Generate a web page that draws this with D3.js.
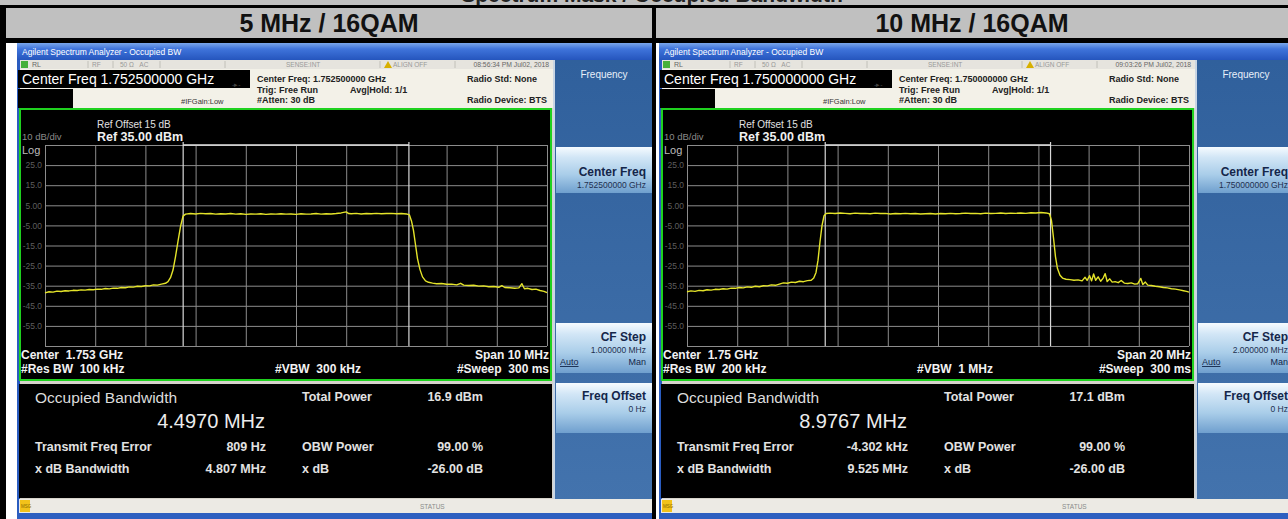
<!DOCTYPE html>
<html>
<head>
<meta charset="utf-8">
<script src="https://cdn.jsdelivr.net/npm/d3@7"></script>
<style>
  html, body { margin: 0; padding: 0; background: #c0c0c0; overflow: hidden; }
  svg { display: block; font-family: "Liberation Sans", Arial, sans-serif; }
</style>
</head>
<body>
<div id="chart"></div>
<script>
// ---- data ----
const pageTitle = "Spectrum Mask / Occupied Bandwidth";
const panelTitles = ["5 MHz / 16QAM", "10 MHz / 16QAM"];
const centerFreqs = ["1.752500000 GHz", "1.750000000 GHz"];
const centerShort = ["1.753 GHz", "1.75 GHz"];
const spansMHz = [10, 20];
const spanText = ["10 MHz", "20 MHz"];
const resBW = ["100 kHz", "200 kHz"];
const vbw = ["300 kHz", "1 MHz"];
const sweep = ["300 ms", "300 ms"];
const timestamps = ["08:56:34 PM Jul02, 2018", "09:03:26 PM Jul02, 2018"];
const cfSteps = ["1.000000 MHz", "2.000000 MHz"];
const obwMHz = [4.4970, 8.9767];
const obwText = ["4.4970 MHz", "8.9767 MHz"];
const freqErrMHz = [0.000809, -0.004302];
const freqErrText = ["809 Hz", "-4.302 kHz"];
const totalPower = ["16.9 dBm", "17.1 dBm"];
const xdbBandwidth = ["4.807 MHz", "9.525 MHz"];
const obwPower = ["99.00 %", "99.00 %"];
const xdbValue = ["-26.00 dB", "-26.00 dB"];

const yTicks = [35, 25, 15, 5, -5, -15, -25, -35, -45, -55, -65];
const yTickLabels = ["Log", "25.0", "15.0", "5.00", "-5.00", "-15.0", "-25.0", "-35.0", "-45.0", "-55.0", ""];

// [offset from center (MHz), level (dBm)]
const trace5 = [
  [-5.00,-38.6],[-4.92,-38.0],[-4.84,-38.2],[-4.76,-37.7],[-4.68,-37.9],[-4.60,-37.5],[-4.52,-37.6],
  [-4.44,-37.3],[-4.36,-37.4],[-4.28,-37.1],[-4.20,-37.2],[-4.12,-36.9],[-4.04,-37.0],[-3.96,-36.7],
  [-3.88,-36.8],[-3.80,-36.4],[-3.72,-36.6],[-3.64,-36.2],[-3.56,-36.3],[-3.48,-35.9],[-3.40,-36.0],
  [-3.32,-35.6],[-3.24,-35.7],[-3.16,-35.3],[-3.08,-35.4],[-3.00,-35.0],[-2.92,-35.1],[-2.84,-34.6],
  [-2.76,-34.7],[-2.68,-34.2],[-2.60,-33.8],[-2.55,-33.0],[-2.50,-31.0],[-2.45,-27.2],[-2.40,-20.5],
  [-2.35,-12.8],[-2.30,-5.5],[-2.25,-0.4],[-2.20,0.6],[-2.10,0.9],[-2.00,0.7],[-1.90,1.0],[-1.80,0.8],
  [-1.70,0.9],[-1.60,0.6],[-1.50,0.8],[-1.40,0.7],[-1.30,0.9],[-1.20,0.6],[-1.10,0.8],[-1.00,0.5],
  [-0.90,0.7],[-0.80,0.6],[-0.70,0.8],[-0.60,0.5],[-0.50,0.7],[-0.40,0.6],[-0.30,0.8],[-0.20,0.6],
  [-0.10,0.7],[0.00,0.5],[0.10,0.8],[0.20,0.6],[0.30,0.7],[0.40,0.9],[0.50,0.6],[0.60,0.8],[0.70,0.7],
  [0.80,0.9],[0.90,1.2],[1.00,1.7],[1.05,0.9],[1.10,0.8],[1.20,1.0],[1.30,0.7],[1.40,0.9],[1.50,0.8],
  [1.60,1.0],[1.70,0.8],[1.80,0.9],[1.90,1.0],[2.00,0.8],[2.10,0.9],[2.20,0.7],[2.26,0.2],[2.30,-2.8],
  [2.34,-7.5],[2.38,-14.5],[2.42,-21.5],[2.47,-27.0],[2.52,-30.6],[2.58,-32.6],[2.64,-33.3],[2.72,-33.7],
  [2.80,-34.0],[2.90,-33.9],[3.00,-34.3],[3.10,-34.2],[3.20,-34.6],[3.28,-33.8],[3.34,-34.7],[3.44,-34.9],
  [3.54,-34.8],[3.64,-35.2],[3.74,-35.1],[3.84,-35.5],[3.94,-35.4],[4.04,-35.8],[4.10,-35.0],[4.16,-35.9],
  [4.26,-36.0],[4.36,-36.3],[4.44,-36.1],[4.50,-34.0],[4.55,-36.5],[4.62,-36.3],[4.70,-36.9],[4.78,-36.7],
  [4.86,-37.4],[4.94,-37.8],[5.00,-38.5]
];
const trace10 = [
  [-10.0,-38.0],[-9.84,-37.6],[-9.68,-37.8],[-9.52,-37.3],[-9.36,-37.5],[-9.20,-37.0],[-9.04,-37.2],
  [-8.88,-36.8],[-8.72,-36.9],[-8.56,-36.5],[-8.40,-36.7],[-8.24,-36.2],[-8.08,-36.3],[-7.92,-35.9],
  [-7.76,-36.1],[-7.60,-35.6],[-7.44,-35.8],[-7.28,-35.3],[-7.12,-35.5],[-6.96,-35.0],[-6.80,-35.1],
  [-6.64,-34.6],[-6.48,-34.8],[-6.32,-34.2],[-6.16,-33.6],[-6.00,-33.8],[-5.84,-33.2],[-5.68,-33.4],
  [-5.52,-32.8],[-5.36,-33.0],[-5.20,-32.5],[-5.05,-32.3],[-4.95,-31.2],[-4.86,-28.4],[-4.78,-22.3],
  [-4.70,-13.0],[-4.62,-5.0],[-4.54,-0.2],[-4.46,0.9],[-4.30,1.1],[-4.10,0.9],[-3.90,1.2],[-3.70,1.0],
  [-3.50,0.8],[-3.30,1.1],[-3.10,0.9],[-2.90,1.0],[-2.70,0.8],[-2.50,1.1],[-2.30,0.9],[-2.10,1.0],
  [-1.90,0.7],[-1.70,0.9],[-1.50,0.8],[-1.30,1.0],[-1.10,0.8],[-0.90,0.9],[-0.70,0.7],[-0.50,0.8],
  [-0.30,0.9],[-0.10,0.7],[0.10,0.9],[0.30,0.8],[0.50,1.0],[0.70,0.8],[0.90,0.9],[1.10,1.1],[1.30,0.9],
  [1.50,1.0],[1.70,0.8],[1.90,1.1],[2.10,0.9],[2.30,1.0],[2.50,1.2],[2.70,0.9],[2.90,1.1],[3.10,1.0],
  [3.30,1.2],[3.50,1.0],[3.70,1.3],[3.90,1.2],[4.10,1.4],[4.30,1.2],[4.44,0.8],[4.52,-2.5],[4.60,-11.0],
  [4.68,-20.5],[4.76,-26.5],[4.86,-29.8],[4.96,-31.2],[5.10,-31.8],[5.26,-32.0],[5.42,-32.3],[5.58,-32.1],
  [5.74,-32.6],[5.86,-30.8],[5.94,-32.4],[6.04,-30.0],[6.12,-32.6],[6.20,-29.2],[6.28,-32.3],[6.38,-30.6],
  [6.48,-32.8],[6.58,-31.2],[6.66,-29.0],[6.74,-32.9],[6.84,-31.6],[6.94,-33.2],[7.06,-33.0],[7.18,-33.5],
  [7.30,-32.4],[7.42,-33.7],[7.56,-33.9],[7.70,-33.6],[7.84,-34.2],[7.96,-34.0],[8.08,-31.4],[8.16,-34.4],
  [8.26,-33.2],[8.36,-34.7],[8.50,-34.9],[8.66,-35.3],[8.82,-35.5],[8.98,-35.9],[9.14,-36.1],[9.30,-36.5],
  [9.46,-36.7],[9.62,-37.1],[9.78,-37.5],[9.90,-37.8],[10.0,-38.2]
];
const traces = [trace5, trace10];

// ---- layout ----
const W = 1288, H = 519;
const panelDx = [0, 642];
const grid = { x0: 45, x1: 547, y0: 145, y1: 346 };

const svg = d3.select("#chart").append("svg").attr("width", W).attr("height", H);
const defs = svg.append("defs");

function vgrad(id, stops) {
  const g = defs.append("linearGradient").attr("id", id)
    .attr("x1", 0).attr("y1", 0).attr("x2", 0).attr("y2", 1);
  stops.forEach(s => g.append("stop").attr("offset", s[0]).attr("stop-color", s[1]));
}
vgrad("titleBar", [[0, "#7aa6ea"], [0.35, "#3f74db"], [1, "#2555bd"]]);
vgrad("softBtn", [[0, "#f6fbff"], [0.22, "#d2e6f6"], [0.6, "#a9cde9"], [1, "#6f9fce"]]);
vgrad("softBg", [[0, "#30609c"], [1, "#4373ad"]]);

svg.append("rect").attr("width", W).attr("height", H).attr("fill", "#c0c0c0");

// page title, almost entirely cut off at the top
svg.append("text").attr("x", 652).attr("y", 2).attr("text-anchor", "middle")
  .attr("font-size", 21).attr("font-weight", "bold").attr("fill", "#222").text(pageTitle);

// table lines
svg.append("rect").attr("x", 0).attr("y", 5).attr("width", W).attr("height", 3).attr("fill", "#000");
svg.append("rect").attr("x", 0).attr("y", 38).attr("width", W).attr("height", 5).attr("fill", "#000");
svg.append("rect").attr("x", 0).attr("y", 5).attr("width", 6).attr("height", H).attr("fill", "#000");
svg.append("rect").attr("x", 652).attr("y", 5).attr("width", 4).attr("height", H).attr("fill", "#000");
svg.append("rect").attr("x", 6).attr("y", 43).attr("width", 11).attr("height", H).attr("fill", "#fff");
svg.append("rect").attr("x", 656).attr("y", 43).attr("width", 4).attr("height", H).attr("fill", "#fff");

svg.selectAll("text.head").data(panelTitles).enter().append("text")
  .attr("class", "head")
  .attr("x", (d, i) => i === 0 ? 329 : 972).attr("y", 32)
  .attr("text-anchor", "middle").attr("font-size", 25).attr("font-weight", "bold")
  .attr("fill", "#111").text(d => d);

function txt(g, x, y, s, size, opts = {}) {
  return g.append("text").attr("x", x).attr("y", y)
    .attr("font-size", size)
    .attr("font-weight", opts.bold ? "bold" : null)
    .attr("fill", opts.fill || "#222")
    .attr("text-anchor", opts.anchor || "start")
    .attr("xml:space", "preserve")
    .style("white-space", "pre")
    .style("text-decoration", opts.underline ? "underline" : null)
    .text(s);
}

panelTitles.forEach((title, i) => {
  defs.append("clipPath").attr("id", "clip" + i)
    .append("rect").attr("x", 17).attr("y", 43).attr("width", 635).attr("height", 476);

  const g = svg.append("g")
    .attr("transform", `translate(${panelDx[i]},0)`)
    .attr("clip-path", `url(#clip${i})`);

  // window chrome
  g.append("rect").attr("x", 17).attr("y", 43).attr("width", 640).attr("height", 476).attr("fill", "#d6d3cb");
  g.append("rect").attr("x", 17).attr("y", 43).attr("width", 3).attr("height", 476).attr("fill", "#2a5cc0");
  g.append("rect").attr("x", 17).attr("y", 43).attr("width", 640).attr("height", 17).attr("fill", "url(#titleBar)");
  txt(g, 22, 55, "Agilent Spectrum Analyzer - Occupied BW", 8.5, { fill: "#fff" });

  // status row
  g.append("rect").attr("x", 20).attr("y", 60).attr("width", 535).attr("height", 9).attr("fill", "#e6e4de");
  [88, 113, 160, 225, 380, 455].forEach(sx =>
    g.append("line").attr("x1", sx).attr("x2", sx).attr("y1", 61).attr("y2", 68)
      .attr("stroke", "#b8b6b0").attr("stroke-width", 0.8));
  g.append("rect").attr("x", 21).attr("y", 61).attr("width", 7).attr("height", 7).attr("fill", "#46b03a");
  txt(g, 32, 67, "RL", 7, { fill: "#666" });
  txt(g, 92, 67, "RF", 6.5, { fill: "#999" });
  txt(g, 120, 67, "50 Ω   AC", 6.5, { fill: "#999" });
  txt(g, 286, 67, "SENSE:INT", 6.5, { fill: "#999" });
  g.append("path").attr("d", "M384,68 L388,61 L392,68 Z").attr("fill", "#d8b000");
  txt(g, 393, 67, "ALIGN OFF", 6.5, { fill: "#999" });
  txt(g, 549, 67, timestamps[i], 6.8, { fill: "#666", anchor: "end" });

  // settings area
  g.append("rect").attr("x", 20).attr("y", 69).attr("width", 535).attr("height", 39).attr("fill", "#f3f1e8");
  g.append("rect").attr("x", 18).attr("y", 70).attr("width", 232).attr("height", 18).attr("fill", "#000");
  txt(g, 22, 84, "Center Freq " + centerFreqs[i], 14, { fill: "#fff" });
  g.append("rect").attr("x", 18).attr("y", 89).attr("width", 55).attr("height", 19).attr("fill", "#000");
  txt(g, 232, 87, "-▸-", 7, { fill: "#444" });
  txt(g, 181, 104, "#IFGain:Low", 7.5, { fill: "#333" });
  txt(g, 257, 82, "Center Freq: " + centerFreqs[i], 9, { bold: true });
  txt(g, 257, 93, "Trig: Free Run", 9, { bold: true });
  txt(g, 350, 93, "Avg|Hold: 1/1", 9, { bold: true });
  txt(g, 257, 103, "#Atten: 30 dB", 9, { bold: true });
  txt(g, 467, 82, "Radio Std: None", 9, { bold: true });
  txt(g, 467, 103, "Radio Device: BTS", 9, { bold: true });

  // softkey column
  g.append("rect").attr("x", 553).attr("y", 60).attr("width", 2).attr("height", 440).attr("fill", "#c9d6e4");
  g.append("rect").attr("x", 555).attr("y", 60).attr("width", 100).attr("height", 440).attr("fill", "url(#softBg)");
  txt(g, 604, 78, "Frequency", 10, { fill: "#e8f0fa", anchor: "middle" });
  const keys = [
    { y0: 147, y1: 193, label: "Center Freq", sub: centerFreqs[i], ly: 176, sy: 188 },
    { y0: 323, y1: 373, label: "CF Step", sub: cfSteps[i], ly: 341, sy: 353, auto: 365 },
    { y0: 383, y1: 433, label: "Freq Offset", sub: "0 Hz", ly: 400, sy: 412 }
  ];
  keys.forEach(k => {
    g.append("rect").attr("x", 556).attr("y", k.y0).attr("width", 98).attr("height", k.y1 - k.y0)
      .attr("fill", "url(#softBtn)");
    txt(g, 646, k.ly, k.label, 12, { bold: true, fill: "#14264a", anchor: "end" });
    txt(g, 646, k.sy, k.sub, 8.5, { fill: "#1e3050", anchor: "end" });
    if (k.auto) {
      txt(g, 560, k.auto, "Auto", 9, { fill: "#14264a", underline: true });
      txt(g, 646, k.auto, "Man", 9, { fill: "#14264a", anchor: "end" });
    }
  });

  // plot frame
  g.append("rect").attr("x", 20).attr("y", 109).attr("width", 531).attr("height", 271)
    .attr("fill", "#000").attr("stroke", "#1fd11f").attr("stroke-width", 2);

  const x = d3.scaleLinear().domain([-spansMHz[i] / 2, spansMHz[i] / 2]).range([grid.x0, grid.x1]);
  const y = d3.scaleLinear().domain([-65, 35]).range([grid.y1, grid.y0]);

  const yAxis = g.append("g").attr("transform", `translate(${grid.x0},0)`)
    .call(d3.axisLeft(y).tickValues(yTicks).tickSize(-(grid.x1 - grid.x0)).tickPadding(3)
      .tickFormat((d, k) => yTickLabels[k]));
  yAxis.select(".domain").remove();
  yAxis.selectAll("line").attr("stroke", "#8c8c8c").attr("stroke-width", 1);
  yAxis.selectAll("text").attr("fill", "#5e5e5e").attr("font-size", 8.5)
    .attr("font-family", "\"Liberation Sans\", Arial, sans-serif");
  yAxis.selectAll("text").filter((d, k) => k === 0)
    .attr("x", 22 - grid.x0).attr("text-anchor", "start").attr("dy", "0.75em")
    .attr("fill", "#bdbdbd").attr("font-size", 11);

  const xAxis = g.append("g").attr("transform", `translate(0,${grid.y1})`)
    .call(d3.axisBottom(x).ticks(10).tickSize(-(grid.y1 - grid.y0)).tickFormat(""));
  xAxis.select(".domain").remove();
  xAxis.selectAll("line").attr("stroke", "#8c8c8c").attr("stroke-width", 1);

  // OBW markers
  const mL = x(freqErrMHz[i] - obwMHz[i] / 2), mR = x(freqErrMHz[i] + obwMHz[i] / 2);
  [mL, mR].forEach(mx => g.append("line").attr("x1", mx).attr("x2", mx)
    .attr("y1", grid.y0 - 3).attr("y2", grid.y1).attr("stroke", "#d8d8d8").attr("stroke-width", 1.2));
  g.append("line").attr("x1", mL).attr("x2", mR).attr("y1", grid.y0).attr("y2", grid.y0)
    .attr("stroke", "#e4e4e4").attr("stroke-width", 1.5);

  // trace
  const line = d3.line().x(d => x(d[0])).y(d => y(d[1]));
  g.append("path").datum(traces[i]).attr("d", line)
    .attr("fill", "none").attr("stroke", "#e4e42a").attr("stroke-width", 1.4)
    .attr("stroke-linejoin", "round");

  // annotations inside frame
  txt(g, 22, 140, "10 dB/div", 9.5, { fill: "#8a8a8a" });
  txt(g, 97, 128, "Ref Offset 15 dB", 10, { fill: "#e0e0e0" });
  txt(g, 97, 141, "Ref 35.00 dBm", 12.5, { fill: "#f0f0f0", bold: true });
  txt(g, 21, 359, "Center  " + centerShort[i], 12, { fill: "#f2f2f2", bold: true });
  txt(g, 21, 373, "#Res BW  " + resBW[i], 12, { fill: "#f2f2f2", bold: true });
  txt(g, 275, 373, "#VBW  " + vbw[i], 12, { fill: "#f2f2f2", bold: true });
  txt(g, 549, 359, "Span " + spanText[i], 12, { fill: "#f2f2f2", bold: true, anchor: "end" });
  txt(g, 549, 373, "#Sweep  " + sweep[i], 12, { fill: "#f2f2f2", bold: true, anchor: "end" });

  // result panel
  g.append("rect").attr("x", 19).attr("y", 384).attr("width", 533).attr("height", 114).attr("fill", "#000");
  txt(g, 35, 403, "Occupied Bandwidth", 15.5, { fill: "#dcdcdc" });
  txt(g, 265, 428, obwText[i], 20, { fill: "#ececec", anchor: "end" });
  txt(g, 302, 401, "Total Power", 12.5, { fill: "#e2e2e2", bold: true });
  txt(g, 483, 401, totalPower[i], 12.5, { fill: "#e2e2e2", bold: true, anchor: "end" });
  txt(g, 35, 451, "Transmit Freq Error", 12.5, { fill: "#e2e2e2", bold: true });
  txt(g, 266, 451, freqErrText[i], 12.5, { fill: "#e2e2e2", bold: true, anchor: "end" });
  txt(g, 302, 451, "OBW Power", 12.5, { fill: "#e2e2e2", bold: true });
  txt(g, 483, 451, obwPower[i], 12.5, { fill: "#e2e2e2", bold: true, anchor: "end" });
  txt(g, 35, 473, "x dB Bandwidth", 12.5, { fill: "#e2e2e2", bold: true });
  txt(g, 266, 473, xdbBandwidth[i], 12.5, { fill: "#e2e2e2", bold: true, anchor: "end" });
  txt(g, 302, 473, "x dB", 12.5, { fill: "#e2e2e2", bold: true });
  txt(g, 483, 473, xdbValue[i], 12.5, { fill: "#e2e2e2", bold: true, anchor: "end" });

  // status bar
  g.append("rect").attr("x", 19).attr("y", 499).attr("width", 640).attr("height", 14).attr("fill", "#eceae4");
  g.append("rect").attr("x", 20).attr("y", 500).attr("width", 10).attr("height", 12).attr("fill", "#f2c21a");
  txt(g, 21, 508, "MSG", 4.5, { fill: "#8a6a00" });
  txt(g, 420, 509, "STATUS", 6.5, { fill: "#8a8a8a" });
  g.append("rect").attr("x", 17).attr("y", 513).attr("width", 640).attr("height", 6).attr("fill", "#2d5fc0");
});
</script>
</body>
</html>
